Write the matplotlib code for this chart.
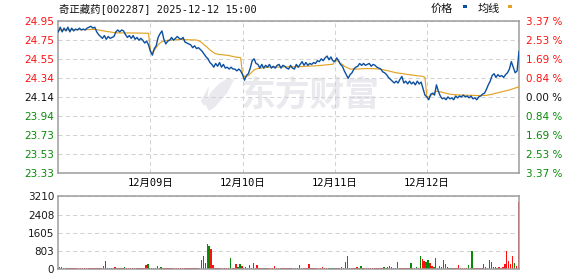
import matplotlib
matplotlib.use("Agg")
import matplotlib.pyplot as plt
from matplotlib.patches import Polygon, Rectangle

# ---------------- data ----------------
stock_title = "奇正藏药[002287] 2025-12-12 15:00"
prev_close = 24.14
max_pct = 3.37
day_labels = ["12月09日", "12月10日", "12月11日", "12月12日"]
minutes_per_day = 240
step_minutes = 5
price_labels_up = ["24.95", "24.75", "24.55", "24.34"]
price_label_base = "24.14"
price_labels_down = ["23.94", "23.73", "23.53", "23.33"]
pct_labels = ["3.37", "2.53", "1.69", "0.84"]
pct_label_base = "0.00"
vol_ticks = [0, 803, 1605, 2408, 3210]
legend_labels = ["价格", "均线"]

d1_price = [24.84, 24.89, 24.84, 24.88, 24.85, 24.89, 24.84, 24.88, 24.85, 24.87,
            24.86, 24.88, 24.86, 24.87, 24.86, 24.88, 24.89, 24.90, 24.88, 24.89,
            24.84, 24.81, 24.79, 24.77, 24.80, 24.76, 24.79, 24.77, 24.78, 24.79,
            24.84, 24.86, 24.84, 24.86, 24.85, 24.81, 24.78, 24.80, 24.77, 24.80,
            24.76, 24.78, 24.75, 24.77, 24.75, 24.72, 24.74, 24.70]
d2_price = [24.63, 24.59, 24.66, 24.69, 24.78, 24.82, 24.85, 24.76, 24.71, 24.74,
            24.75, 24.78, 24.75, 24.77, 24.79, 24.77, 24.76, 24.78, 24.73, 24.72,
            24.71, 24.70, 24.67, 24.69, 24.66, 24.67, 24.65, 24.63, 24.60, 24.57,
            24.55, 24.51, 24.49, 24.46, 24.50, 24.47, 24.51, 24.46, 24.49, 24.45,
            24.46, 24.44, 24.46, 24.44, 24.44, 24.42, 24.44, 24.42]
d3_price = [24.38, 24.32, 24.37, 24.39, 24.45, 24.53, 24.55, 24.50, 24.49, 24.45,
            24.49, 24.45, 24.48, 24.46, 24.49, 24.45, 24.47, 24.45, 24.48, 24.49,
            24.45, 24.48, 24.47, 24.45, 24.44, 24.48, 24.45, 24.44, 24.49, 24.46,
            24.49, 24.52, 24.48, 24.51, 24.48, 24.50, 24.49, 24.51, 24.50, 24.53,
            24.52, 24.55, 24.53, 24.56, 24.58, 24.54, 24.57, 24.53]
d4_price = [24.52, 24.56, 24.53, 24.49, 24.47, 24.42, 24.38, 24.34, 24.38, 24.40,
            24.44, 24.46, 24.47, 24.50, 24.48, 24.50, 24.48, 24.49, 24.50, 24.47,
            24.49, 24.48, 24.46, 24.45, 24.44, 24.41, 24.40, 24.38, 24.35, 24.33,
            24.31, 24.29, 24.31, 24.29, 24.33, 24.36, 24.29, 24.31, 24.28, 24.31,
            24.28, 24.30, 24.27, 24.31, 24.28, 24.30, 24.23, 24.16]
d5_price = [24.14, 24.11, 24.17, 24.18, 24.16, 24.27, 24.20, 24.15, 24.12, 24.13,
            24.11, 24.14, 24.12, 24.13, 24.11, 24.15, 24.13, 24.15, 24.14, 24.16,
            24.14, 24.15, 24.13, 24.15, 24.12, 24.13, 24.11, 24.14, 24.15, 24.17,
            24.18, 24.22, 24.27, 24.31, 24.37, 24.39, 24.35, 24.38, 24.36, 24.37,
            24.35, 24.38, 24.40, 24.44, 24.52, 24.46, 24.40, 24.42, 24.63]

d1_avg = [24.85, 24.86, 24.86, 24.862, 24.862, 24.863, 24.863, 24.863, 24.864, 24.864,
          24.864, 24.864, 24.865, 24.865, 24.865, 24.865, 24.866, 24.866, 24.866, 24.866,
          24.864, 24.86, 24.856, 24.852, 24.848, 24.845, 24.842, 24.839, 24.836, 24.833,
          24.83, 24.829, 24.829, 24.829, 24.829, 24.828, 24.828, 24.828, 24.828, 24.827,
          24.827, 24.827, 24.826, 24.826, 24.826, 24.825, 24.825, 24.824]
d2_avg = [24.63, 24.62, 24.64, 24.67, 24.70, 24.72, 24.735, 24.74, 24.745, 24.75,
          24.752, 24.754, 24.755, 24.756, 24.757, 24.757, 24.757, 24.756, 24.756, 24.755,
          24.755, 24.754, 24.754, 24.753, 24.752, 24.745, 24.735, 24.72, 24.70, 24.685,
          24.665, 24.645, 24.63, 24.615, 24.605, 24.60, 24.597, 24.595, 24.593, 24.59,
          24.588, 24.585, 24.58, 24.575, 24.57, 24.567, 24.565, 24.562]
d3_avg = [24.38, 24.36, 24.36, 24.37, 24.39, 24.41, 24.43, 24.44, 24.445, 24.45,
          24.452, 24.455, 24.457, 24.458, 24.46, 24.46, 24.46, 24.461, 24.461, 24.462,
          24.462, 24.463, 24.463, 24.463, 24.463, 24.464, 24.464, 24.464, 24.464, 24.465,
          24.466, 24.467, 24.468, 24.469, 24.47, 24.471, 24.472, 24.473, 24.474, 24.476,
          24.478, 24.48, 24.482, 24.484, 24.486, 24.488, 24.49, 24.49]
d4_avg = [24.53, 24.53, 24.52, 24.50, 24.49, 24.47, 24.46, 24.45, 24.44, 24.44,
          24.44, 24.44, 24.44, 24.442, 24.443, 24.444, 24.445, 24.445, 24.445, 24.445,
          24.445, 24.444, 24.442, 24.44, 24.437, 24.433, 24.43, 24.425, 24.42, 24.415,
          24.41, 24.405, 24.40, 24.397, 24.393, 24.39, 24.387, 24.384, 24.381, 24.378,
          24.375, 24.372, 24.37, 24.368, 24.366, 24.364, 24.36, 24.35]
d5_avg = [24.14, 24.14, 24.15, 24.17, 24.19, 24.20, 24.20, 24.195, 24.19, 24.185,
          24.18, 24.175, 24.17, 24.167, 24.165, 24.163, 24.162, 24.161, 24.16, 24.16,
          24.159, 24.158, 24.158, 24.157, 24.157, 24.156, 24.156, 24.155, 24.155, 24.155,
          24.156, 24.158, 24.161, 24.165, 24.17, 24.175, 24.18, 24.185, 24.19, 24.195,
          24.20, 24.205, 24.21, 24.215, 24.222, 24.23, 24.236, 24.242, 24.25]

d1_vol = [234, 88, 117, 50, 58, 58, 45, 40, 45, 50,
          40, 45, 45, 40, 45, 45, 50, 40, 45, 45,
          40, 45, 50, 45, 146, 380, 50, 45, 40, 45,
          88, 45, 40, 45, 45, 88, 45, 40, 45, 50,
          58, 45, 40, 45, 50, 45, 190, 234]
d2_vol = [50, 45, 45, 50, 146, 45, 100, 45, 45, 40,
          45, 45, 40, 45, 45, 50, 45, 40, 45, 45,
          45, 40, 45, 45, 45, 50, 45, 409, 584, 292,
          1110, 1022, 890, 190, 45, 40, 45, 45, 50, 45,
          45, 40, 496, 45, 50, 234, 88, 234]
d3_vol = [146, 50, 88, 50, 190, 50, 277, 50, 190, 45,
          45, 45, 58, 45, 45, 45, 45, 146, 45, 45,
          45, 45, 45, 45, 45, 45, 45, 45, 45, 45,
          190, 45, 45, 45, 45, 234, 45, 45, 45, 45,
          45, 45, 102, 45, 45, 55, 60, 50]
d4_vol = [55, 45, 45, 45, 117, 45, 321, 584, 45, 45,
          45, 45, 102, 45, 146, 45, 45, 45, 45, 45,
          45, 45, 45, 45, 45, 45, 80, 60, 90, 146,
          80, 45, 45, 321, 45, 58, 45, 45, 45, 45,
          263, 45, 45, 88, 50, 586, 440, 381]
d5_vol = [337, 410, 293, 147, 100, 498, 60, 147, 80, 425,
          235, 100, 60, 50, 45, 45, 60, 190, 45, 45,
          50, 45, 190, 50, 806, 50, 45, 45, 45, 50,
          235, 100, 60, 410, 322, 90, 90, 60, 90, 45,
          90, 235, 806, 381, 235, 586, 264, 147, 2947]

# r = up tick (red), g = down tick (green)
d1_dir = "grgrggrr" "rrrrrrrr" "rrrrrrrr" "rgrrrrrr" "rrrgrrrr" "grrrrrrg"
d2_dir = "rrrrrrgr" "rrrrrrrr" "rrrrrrrr" "rrrgggrg" "rrrrrrrr" "rrgrrrgg"
d3_dir = "rrrrrrrr" "rrrrgrrr" "rrrrrrrr" "rrrrrrrr" "rrrrrrrr" "rrrrrggg"
d4_dir = "grrrgrgr" "rrrrrrgr" "rrrrrrrr" "rrgrggrr" "rrrrrrrr" "grrgrgrr"
d5_dir = "ggrrgggg" "grrrggrr" "rrrrrrgr" "grrrrrrr" "rrrgggrr" "rrrrrrgr" "r"

# ---------------- assemble ----------------
days_price = [d1_price, d2_price, d3_price, d4_price, d5_price]
days_avg = [d1_avg, d2_avg, d3_avg, d4_avg, d5_avg]
days_vol = [d1_vol, d2_vol, d3_vol, d4_vol, d5_vol]
days_dir = [d1_dir, d2_dir, d3_dir, d4_dir, d5_dir]

t, price, avg, vol, vdir = [], [], [], [], []
for d in range(5):
    for i in range(len(days_price[d])):
        t.append(d * minutes_per_day + i * step_minutes)
        price.append(days_price[d][i])
        avg.append(days_avg[d][i])
        vol.append(days_vol[d][i])
        vdir.append(days_dir[d][i])
n_days = 5
total = n_days * minutes_per_day

BLUE = "#0b4fa0"
GOLD = "#e2a324"
RED = "#ff1010"
GREEN = "#078a07"
GRID = "#d2d2d2"
SPINE = "#9c9c9c"
MONO = ["DejaVu Sans Mono", "Noto Sans CJK SC"]

W, H = 578, 276
fig = plt.figure(figsize=(W / 100, H / 100), dpi=100)


def fx(px):
    return px / W


def fy(py):
    return 1 - py / H


L, R = 58.3, 519.0
ax = fig.add_axes([fx(L), fy(172.6), fx(R - L), (172.6 - 21.3) / H])
axv = fig.add_axes([fx(L), fy(269.3), fx(R - L), (269.3 - 196.3) / H])

# ---------------- price panel ----------------
lo = prev_close * (1 - max_pct / 100)
hi = prev_close * (1 + max_pct / 100)
ax.set_xlim(0, total)
ax.set_ylim(lo, hi)

ks = list(range(-4, 5))
yt = [prev_close * (1 + k * max_pct / 400) for k in ks]
ylabels = price_labels_down[::-1] + [price_label_base] + price_labels_up[::-1]
ax.set_yticks(yt)
ax.set_yticklabels(ylabels)
for k, lab in zip(ks, ax.get_yticklabels()):
    lab.set_color(RED if k > 0 else (GREEN if k < 0 else "#111111"))
ax.tick_params(axis="y", length=0, pad=3, labelsize=7.5)

day_ticks = [minutes_per_day * (d + 1) for d in range(4)]
ax.set_xticks(day_ticks)
ax.set_xticklabels(day_labels, family=MONO, fontsize=7.5)
ax.tick_params(axis="x", length=0, pad=3.5)

ax.grid(True, ls=(0, (4, 3)), color=GRID, lw=0.75)
ax.set_axisbelow(True)
for s in ax.spines.values():
    s.set_color(SPINE)
    s.set_linewidth(1.1)

axr = ax.twinx()
axr.set_ylim(lo, hi)
axr.set_yticks(yt)
rl = [p + " %" for p in pct_labels]          # 3.37 ... 0.84
axr.set_yticklabels(rl + [pct_label_base + " %"] + rl[::-1])
for k, lab in zip(ks, axr.get_yticklabels()):
    lab.set_color(RED if k > 0 else (GREEN if k < 0 else "#111111"))
axr.tick_params(axis="y", length=0, pad=5, labelsize=7.5)
for s in axr.spines.values():
    s.set_visible(False)

# watermark
ax.text(fx(310), fy(95), "东方财富", transform=fig.transFigure, ha="center",
        va="center", fontsize=25, fontweight="bold", family="Noto Sans CJK SC",
        color="#e9e9ee", zorder=0.2)
logo = Polygon([(fx(229), fy(78)), (fx(234), fy(80)), (fx(227), fy(93)),
                (fx(215), fy(107)), (fx(209), fy(111)), (fx(205), fy(104)),
                (fx(211), fy(92)), (fx(220), fy(83))],
               closed=True, transform=fig.transFigure, facecolor="#e9e9ee",
               edgecolor="none", zorder=0.2)
ax.add_patch(logo)
logo2 = Polygon([(fx(201), fy(101)), (fx(209), fy(86)), (fx(207), fy(100)),
                 (fx(204), fy(106))],
                closed=True, transform=fig.transFigure, facecolor="#e9e9ee",
                edgecolor="none", zorder=0.2)
ax.add_patch(logo2)

ax.plot(t, avg, color=GOLD, lw=0.85, zorder=3)
ax.plot(t, price, color=BLUE, lw=1.0, zorder=4)

# ---------------- volume panel ----------------
colors = [RED if c == "r" else GREEN for c in vdir]
axv.bar(t, vol, width=-3.8, align="edge", color=colors, linewidth=0)
axv.set_xlim(0, total)
axv.set_ylim(vol_ticks[0], vol_ticks[-1])
axv.set_yticks(vol_ticks)
axv.set_yticklabels([str(v) for v in vol_ticks], color="#1a1a1a")
axv.tick_params(axis="y", length=0, pad=3, labelsize=7.5)
axv.set_xticks([])
axv.yaxis.grid(True, ls=(0, (4, 3)), color=GRID, lw=0.75)
axv.set_axisbelow(True)
for s in axv.spines.values():
    s.set_color(SPINE)
    s.set_linewidth(1.1)

# ---------------- header ----------------
fig.text(fx(59), fy(8.5), stock_title, ha="left", va="center",
         family=MONO, fontsize=7.5, color="#111111")
fig.text(fx(431), fy(8.7), legend_labels[0], ha="left", va="center",
         family="Noto Sans CJK SC", fontsize=8, color="#111111")
fig.patches.append(Rectangle((fx(462.7), fy(8.2)), fx(4.6), 2.8 / H,
                             transform=fig.transFigure, facecolor=BLUE,
                             edgecolor="none"))
fig.text(fx(477.7), fy(8.7), legend_labels[1], ha="left", va="center",
         family="Noto Sans CJK SC", fontsize=8, color="#111111")
fig.patches.append(Rectangle((fx(507.7), fy(8.2)), fx(4.6), 2.8 / H,
                             transform=fig.transFigure, facecolor=GOLD,
                             edgecolor="none"))

fig.savefig("out.png", dpi=100)
